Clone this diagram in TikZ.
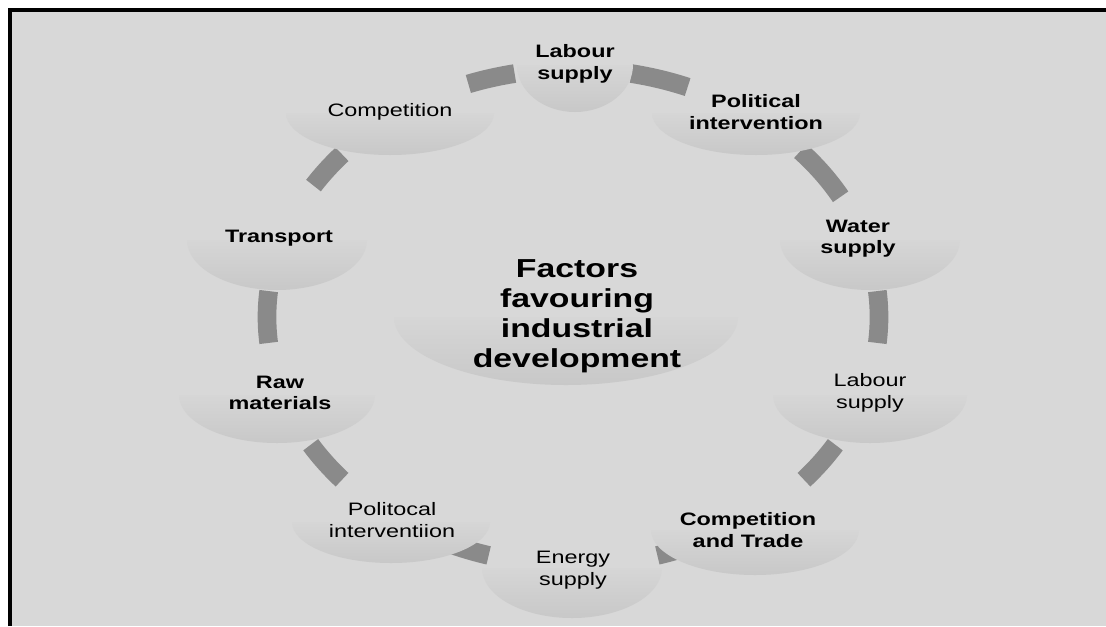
\documentclass[tikz,border=0pt]{standalone}
\usepackage{fontspec}
\setmainfont[FakeStretch=1.3]{Liberation Sans}
\usetikzlibrary{positioning, calc}
\definecolor{bggray}  {RGB}{216,216,216}
\definecolor{linkgray}{RGB}{138,138,138}
\definecolor{bowltop} {RGB}{214,214,214}
\definecolor{bowlbot} {RGB}{200,200,200}

% half-ellipse "bowl" under a label: centre x, top y, x radius, depth
\newcommand{\bowl}[4]{%
  \shade[top color=bowltop, bottom color=bowlbot]
    (#1+#3,#2) arc[start angle=0, end angle=180, x radius=#3, y radius=#4] -- cycle;}

\tikzset{
  boldlbl/.style={align=center, inner sep=0pt,
                  font=\fontsize{13.5}{16}\selectfont\bfseries},
  thinlbl/.style={align=center, inner sep=0pt,
                  font=\fontsize{13.5}{16}\selectfont},
  hublbl/.style={align=center, inner sep=0pt,
                 font=\fontsize{19.5}{22.5}\selectfont\bfseries},
  link/.style={draw=linkgray, line width=14pt}
}

\begin{document}
\begin{tikzpicture}[x=0.75pt, y=-0.75pt]
  \useasboundingbox (0,0) rectangle (1106,626);
  \fill[white] (0,0) rectangle (1106,626);
  \fill[bggray] (10,10) rectangle (1106,626);
  \draw[line width=3pt] (10,626) -- (10,10) -- (1106,10);

  % ring segments
  \coordinate (hub) at (573,317);
  \foreach \a/\b in {250/259, 281/292, 318/331, -6/6, 31/41,
                     66/74, 106/116, 139/149, 174/186, 212/221}
    \draw[link] (hub) ++(\a:306 and 248)
      arc[start angle=\a, end angle=\b, x radius=306, y radius=248];

  % bowls
  \bowl{566}{317}{172}{68}
  \bowl{575}{65}{58}{47}
  \bowl{756}{113}{104}{42}
  \bowl{870}{240}{90}{50}
  \bowl{870}{395}{97}{48}
  \bowl{755}{530}{104}{45}
  \bowl{572}{568}{90}{50}
  \bowl{391}{522}{99}{41}
  \bowl{277}{395}{98}{48}
  \bowl{277}{240}{90}{50}
  \bowl{390}{113}{104}{42}

  % labels
  \node[hublbl]  (factors)  at (577,316) {Factors\\favouring\\industrial\\development};
  \node[boldlbl] (labtop)   at (575,64)  {Labour\\supply};
  \node[boldlbl] (polint)   at (756,112) {Political\\intervention};
  \node[boldlbl] (water)    at (858,239) {Water\\supply};
  \node[thinlbl] (labright) at (870,393) {Labour\\supply};
  \node[boldlbl] (comptrade)at (748,530) {Competition\\and Trade};
  \node[thinlbl] (energy)   at (573,570) {Energy\\supply};
  \node[thinlbl] (politocal)at (392,520) {Politocal\\interventiion};
  \node[boldlbl] (raw)      at (280,393) {Raw\\materials};
  \node[boldlbl] (transport)at (279,238) {Transport};
  \node[thinlbl] (comp)     at (390,112) {Competition};
\end{tikzpicture}
\end{document}
